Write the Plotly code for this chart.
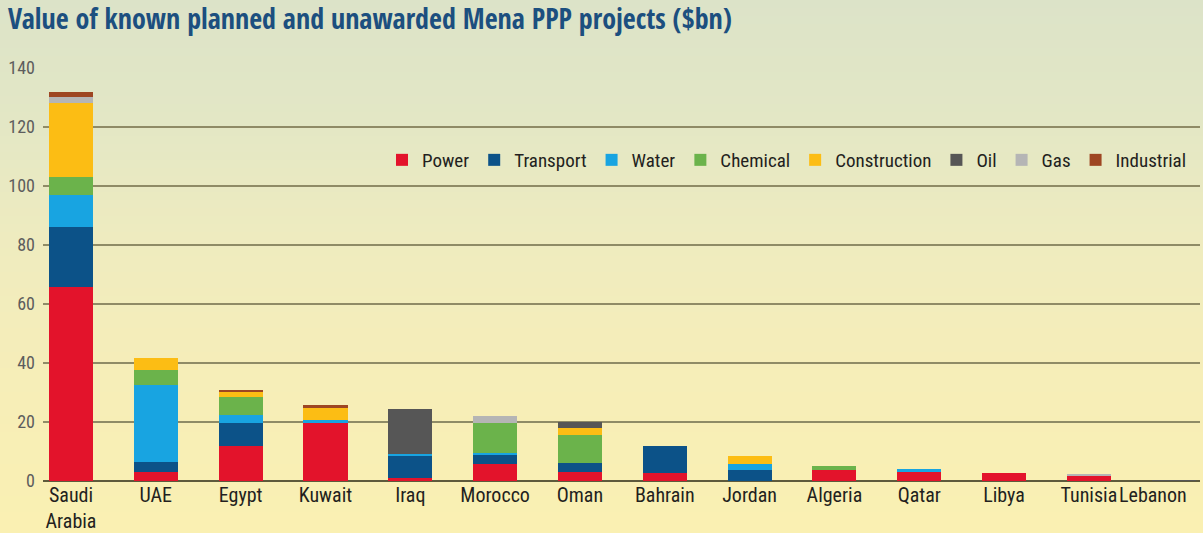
import plotly.graph_objects as go

countries = ["Saudi<br>Arabia", "UAE", "Egypt", "Kuwait", "Iraq", "Morocco", "Oman",
             "Bahrain", "Jordan", "Algeria", "Qatar", "Libya", "Tunisia", "Lebanon"]

power        = [65.7, 3.0, 11.8, 19.7, 1.0, 5.9, 3.0, 2.8, 0.0, 3.6, 3.0, 2.8, 2.0, 0.0]
transport    = [20.3, 3.4, 7.7, 0.0, 7.4, 3.1, 3.2, 9.0, 3.6, 0.0, 0.0, 0.0, 0.0, 0.0]
water        = [10.9, 26.2, 3.0, 1.1, 0.9, 0.5, 0.0, 0.0, 2.2, 0.0, 1.1, 0.0, 0.0, 0.0]
chemical     = [6.3, 4.9, 6.0, 0.0, 0.0, 10.2, 9.5, 0.0, 0.0, 1.4, 0.0, 0.0, 0.0, 0.0]
construction = [24.9, 4.3, 1.6, 4.0, 0.0, 0.0, 2.3, 0.0, 2.8, 0.0, 0.0, 0.0, 0.0, 0.0]
oil          = [0.0, 0.0, 0.0, 0.0, 15.2, 0.0, 1.9, 0.0, 0.0, 0.0, 0.0, 0.0, 0.0, 0.3]
gas          = [2.2, 0.0, 0.0, 0.0, 0.0, 2.5, 0.0, 0.0, 0.0, 0.0, 0.0, 0.0, 0.2, 0.0]
industrial   = [1.5, 0.0, 0.9, 0.8, 0.0, 0.0, 0.0, 0.0, 0.0, 0.0, 0.0, 0.0, 0.0, 0.0]

series_names = ["Power", "Transport", "Water", "Chemical", "Construction", "Oil", "Gas", "Industrial"]
series_values = [power, transport, water, chemical, construction, oil, gas, industrial]
series_colors = ["#e3132b", "#0c5288", "#18a4e1", "#6bb34b", "#fcbd14", "#565656", "#b5b5b5", "#9e4622"]

y_ticks = [0, 20, 40, 60, 80, 100, 120, 140]

FONT = "Roboto Condensed, Liberation Sans Narrow, sans-serif"
TITLE_FONT = "Open Sans Condensed, Roboto Condensed, sans-serif"

n = len(countries)
# the last label is drawn right-aligned under its bar (as in the original) so it stays inside the picture
tick_text = countries[:-1] + [""]

fig = go.Figure()
for name, vals, col in zip(series_names, series_values, series_colors):
    fig.add_trace(go.Bar(
        name=name, x=list(range(n)), y=vals,
        marker=dict(color=col, line=dict(width=0)), width=0.52,
    ))

fig.add_annotation(
    x=n - 1, y=0, xref="x", yref="y", text=countries[-1], showarrow=False,
    xanchor="right", yanchor="top", xshift=15, yshift=0,
    font=dict(family=FONT, size=20, color="#231f20"),
)

# background gradient (greenish top to yellow bottom)
W, H = 1203, 533
L, R = 43, 1200
stops = [(0, (220, 227, 200)), (120, (227, 231, 197)), (260, (240, 236, 190)),
         (400, (247, 238, 183)), (533, (250, 240, 178))]
plot_top, plot_bot = 68, 481
ph = plot_bot - plot_top
pw = R - L


def col_at(py):
    for (p0, c0), (p1, c1) in zip(stops[:-1], stops[1:]):
        if p0 <= py <= p1:
            t = (py - p0) / (p1 - p0)
            return tuple(round(a + (b - a) * t) for a, b in zip(c0, c1))
    return stops[-1][1]


shapes = []
step = 8
for py in range(0, H + step, step):
    c = col_at(py + step / 2)
    shapes.append(dict(
        type="rect", xref="paper", yref="paper", layer="below",
        x0=-0.1, x1=1.1,
        y0=(plot_bot - (py + step + 1)) / ph, y1=(plot_bot - py) / ph,
        fillcolor="rgb(%d,%d,%d)" % c, line=dict(width=0),
    ))

fig.update_layout(
    barmode="stack",
    width=W, height=H,
    margin=dict(l=L, r=W - R, t=plot_top, b=H - plot_bot),
    paper_bgcolor="rgb(245,238,186)",
    plot_bgcolor="rgba(0,0,0,0)",
    shapes=shapes,
    font=dict(family=FONT, color="#231f20"),
    title=dict(
        text="<b>Value of known planned and unawarded Mena PPP projects ($bn)</b>",
        x=8 / W, xanchor="left", y=1 - 19 / H, yanchor="middle",
        font=dict(family=TITLE_FONT, size=28, color="#1c4f7f"),
    ),
    legend=dict(
        orientation="h", x=(1192 - L) / pw, xanchor="right", y=(plot_bot - 160) / ph, yanchor="middle",
        font=dict(family=FONT, size=19, color="#231f20"),
        bgcolor="rgba(0,0,0,0)", traceorder="normal", itemwidth=30,
    ),
    bargap=0.48,
    showlegend=True,
)

fig.update_xaxes(
    range=[-0.33, 13.31], automargin=False,
    tickmode="array", tickvals=list(range(n)), ticktext=tick_text,
    tickfont=dict(family=FONT, size=20, color="#231f20"),
    showgrid=False, zeroline=False, showline=False, ticks="", tickangle=0,
)
fig.update_yaxes(
    range=[0, 140], automargin=False,
    tickmode="array", tickvals=y_ticks, ticktext=[str(v) for v in y_ticks],
    tickfont=dict(family=FONT, size=18, color="#5d5d5d"),
    showgrid=True, gridcolor="#8f8b66", gridwidth=1.5,
    zeroline=True, zerolinecolor="#5e5a3c", zerolinewidth=2,
    ticks="", ticklabelstandoff=7,
)

fig.write_html(
    "out.html",
    config={"displayModeBar": False},
    post_script="document.body.style.margin='0';document.body.style.overflow='hidden';",
)
